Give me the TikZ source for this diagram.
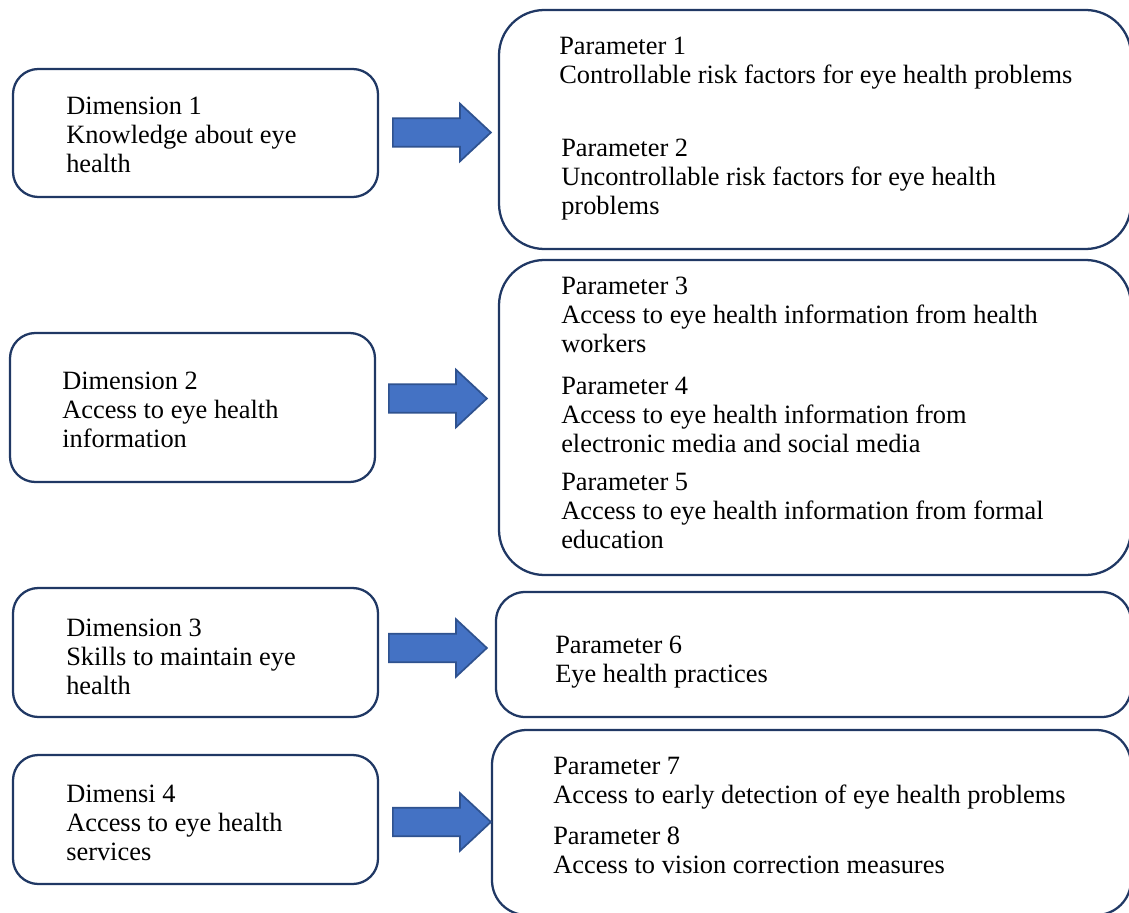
\documentclass[tikz,border=0pt]{standalone}
\usepackage{fontspec}
\setmainfont{Liberation Serif}
\usetikzlibrary{shapes.arrows,fit}
\definecolor{boxline}{HTML}{203864}
\definecolor{arrowfill}{HTML}{4472C4}
\definecolor{arrowline}{HTML}{2F528F}

\begin{document}
\begin{tikzpicture}[x=0.75pt,y=-0.75pt]
    \tikzset{dimbox/.style={draw=boxline,line width=1.7pt,rounded corners=19pt,inner sep=0pt},
    parbox/.style={dimbox,rounded corners=34pt},
    txt/.style={anchor=north west,inner sep=0pt,align=left,font=\fontsize{19.8}{21.75}\selectfont},
    bigarrow/.style={single arrow,draw=arrowline,fill=arrowfill,line width=1.3pt,anchor=tail,
      minimum height=73.5pt,inner xsep=0pt,inner ysep=10pt,
      single arrow head extend=11pt,single arrow tip angle=86}}
    \useasboundingbox (0,0) rectangle (1129,913);
    % dimensions
    \node[dimbox,fit={(13,69) (378,197)}] (dim1) {};
    \node[dimbox,fit={(10,333) (375,482)}] (dim2) {};
    \node[dimbox,fit={(13,588) (378,717)}] (dim3) {};
    \node[dimbox,fit={(13,755) (378,884)}] (dim4) {};
    \node[txt] (dimtext1) at (66,97) {Dimension 1\\Knowledge about eye\\health};
    \node[txt] (dimtext2) at (62,372) {Dimension 2\\Access to eye health\\information};
    \node[txt] (dimtext3) at (66,619) {Dimension 3\\Skills to maintain eye\\health};
    \node[txt] (dimtext4) at (66,785) {Dimensi 4\\Access to eye health\\services};
    % parameters
    \node[parbox,fit={(499,10) (1131,249)}] (par12) {};
    \node[parbox,fit={(499,260) (1131,575)}] (par345) {};
    \node[parbox,rounded corners=22pt,fit={(496,592) (1131,717)}] (par6) {};
    \node[parbox,rounded corners=26pt,fit={(492,730) (1131,915)}] (par78) {};
    \node[txt] (partext1) at (559,37) {Parameter 1\\Controllable risk factors for eye health problems};
    \node[txt] (partext2) at (561,139) {Parameter 2\\Uncontrollable risk factors for eye health\\problems};
    \node[txt] (partext3) at (561,277) {Parameter 3\\Access to eye health information from health\\workers};
    \node[txt] (partext4) at (561,377) {Parameter 4\\Access to eye health information from\\electronic media and social media};
    \node[txt] (partext5) at (561,473) {Parameter 5\\Access to eye health information from formal\\education};
    \node[txt] (partext6) at (555,636) {Parameter 6\\Eye health practices};
    \node[txt] (partext7) at (553,757) {Parameter 7\\Access to early detection of eye health problems};
    \node[txt] (partext8) at (553,827) {Parameter 8\\Access to vision correction measures};
    % block arrows
    \node[bigarrow] (arr1) at (392,132.5) {};
    \node[bigarrow] (arr2) at (388,398.5) {};
    \node[bigarrow] (arr3) at (388,648) {};
    \node[bigarrow] (arr4) at (392,822) {};
\end{tikzpicture}
\end{document}
